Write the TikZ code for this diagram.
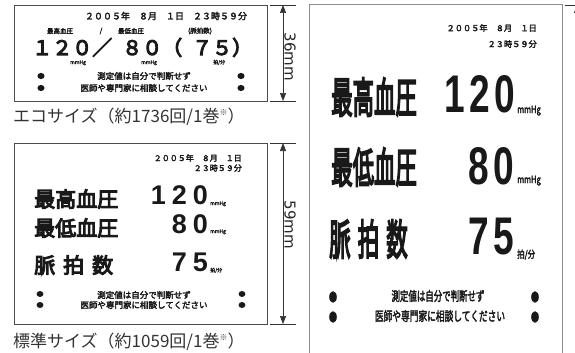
\documentclass[tikz,border=0pt]{standalone}
\usepackage{graphicx}
\usepackage{fontspec}
\setmainfont{Noto Sans CJK JP}
\newfontfamily\prt[FakeBold=3]{Noto Sans CJK JP}
\newfontfamily\prtheavy[FakeBold=5]{Noto Sans CJK JP}
\newfontfamily\prtdig{Liberation Sans}
\newfontfamily\dimfont{DejaVu Sans}
\newcommand{\squeeze}[2]{\scalebox{#1}[1]{#2}}
\usetikzlibrary{arrows.meta}

\begin{document}
\begin{tikzpicture}[x=1pt, y=-1pt]
	\tikzstyle{every node}=[inner sep=0, text=black!90]
	\tikzstyle{paper}=[black!70, line width=0.8]
	\tikzstyle{dim}=[black!80, line width=0.6]
	\tikzstyle{dimarrow}=[dim, {Triangle[length=8pt,width=6pt]}-{Triangle[length=8pt,width=6pt]}]
	\tikzstyle{dimlabel}=[rotate=-90, text=black!85, font=\dimfont\fontsize{15}{15}\selectfont]
	\tikzstyle{caption}=[anchor=west, text=black!80, font=\fontsize{17}{17}\selectfont]
	\tikzstyle{head}=[font=\prt\fontsize{6.5}{6.5}\selectfont]
	\tikzstyle{unit}=[anchor=base west, font=\prt\fontsize{5}{5}\selectfont]
	\tikzstyle{note}=[font=\prt\fontsize{8.5}{8.5}\selectfont]
	\tikzstyle{stamp}=[anchor=east, font=\prt\fontsize{8}{8}\selectfont]
	\tikzstyle{rowname}=[anchor=west, font=\prtheavy\fontsize{21}{21}\selectfont]
	\tikzstyle{reading}=[anchor=east, font=\prtdig\bfseries\fontsize{27}{27}\selectfont]
	\tikzstyle{bigname}=[anchor=west, font=\prtheavy\fontsize{42}{42}\selectfont]
	\tikzstyle{bigreading}=[anchor=east, font=\prtdig\bfseries\fontsize{53}{53}\selectfont]
	\tikzstyle{bigunit}=[anchor=base west, font=\prt\fontsize{10}{10}\selectfont]
	\tikzstyle{bignote}=[font=\prt\fontsize{13}{13}\selectfont]
	\useasboundingbox (0,0) rectangle (575,353);
	\clip (0,0) rectangle (575,353);

	%paper outlines
	\draw[paper] (14,5) coordinate (eco nw) rectangle (267,101) coordinate (eco se);
	\draw[paper] (14,143) coordinate (std nw) rectangle (267,324) coordinate (std se);
	\draw[paper, black!45, line width=1] (309,360) -- (309,5) coordinate (big nw) -- (562,5) -- (562,360);

	%dimensions
	\foreach \y in {5,101,143,324}
		\draw[dim] (270,\y) -- (296,\y);
	\draw[dim] (565,5) -- (585,5);
	\coordinate (eco top) at (283,5);
	\coordinate (eco bot) at (283,101);
	\coordinate (std top) at (283,143);
	\coordinate (std bot) at (283,324);
	\coordinate (big top) at (577,5);
	\coordinate (big bot) at (577,420);
	\draw[dimarrow] (eco top) -- (eco bot);
	\draw[dimarrow] (std top) -- (std bot);
	\draw[dimarrow] (big top) -- (big bot);
	\node[dimlabel] (eco size) at (290,57) {36mm};
	\node[dimlabel] (std size) at (290,225) {59mm};

	%eco size slip
	\node[font=\prt\fontsize{9}{9}\selectfont] (eco date) at (166,16) {２００５年　８月　１日　２３時５９分};
	\node[head] (eco sys head) at (60,31) {最高血圧};
	\node[head] (eco slash) at (101,31) {/};
	\node[head] (eco dia head) at (131,31) {最低血圧};
	\node[head] (eco pulse head) at (200,31) {(脈拍数)};
	\node[anchor=base west, font=\prtheavy\fontsize{20}{20}\selectfont] (eco values) at (32,55)
		{１２０／\hspace{10pt}８０（\hspace{10pt}７５）};
	\node[unit] (eco unit sys) at (70,64) {mmHg};
	\node[unit] (eco unit dia) at (141,64) {mmHg};
	\node[unit] (eco unit pulse) at (213,64) {拍/分};
	\foreach \x in {41,241}
		\foreach \y in {76,88}
			\fill[black!90] (\x,\y) ellipse (3.6 and 3.1);
	\node[note] (eco note a) at (144,76) {測定値は自分で判断せず};
	\node[note] (eco note b) at (144,88) {医師や専門家に相談してください};

	%standard size slip
	\node[stamp] (std date) at (242,158) {２００５年　８月　１日};
	\node[stamp] (std time) at (242,168) {２３時５９分};
	\node[rowname] (std sys name) at (34,199) {最高血圧};
	\node[rowname] (std dia name) at (34,228) {最低血圧};
	\node[rowname] (std pulse name) at (34,265) {脈\hspace{8pt}拍\hspace{8pt}数};
	\node[reading] (std sys val) at (208,195) {1\hspace{6pt}2\hspace{6pt}0};
	\node[reading] (std dia val) at (208,224.5) {8\hspace{6pt}0};
	\node[reading] (std pulse val) at (208,262.5) {7\hspace{6pt}5};
	\node[unit] (std unit sys) at (210,205) {mmHg};
	\node[unit] (std unit dia) at (210,233) {mmHg};
	\node[unit] (std unit pulse) at (210,272) {拍/分};
	\foreach \x in {40,242}
		\foreach \y in {294,305}
			\fill[black!90] (\x,\y) ellipse (3.4 and 3);
	\node[note] (std note a) at (144,295) {測定値は自分で判断せず};
	\node[note] (std note b) at (144,305) {医師や専門家に相談してください};

	%large size slip
	\node[stamp, font=\prt\fontsize{8.2}{8.2}\selectfont] (big date) at (537,28) {２００５年　８月　１日};
	\node[stamp, font=\prt\fontsize{8.2}{8.2}\selectfont] (big time) at (537,44) {２３時５９分};
	\node[bigname] (big sys name) at (331,97) {\squeeze{0.51}{最高血圧}};
	\node[bigname] (big dia name) at (331,167) {\squeeze{0.51}{最低血圧}};
	\node[bigname] (big pulse name) at (329,239) {\squeeze{0.51}{脈\hspace{14pt}拍\hspace{14pt}数}};
	\node[bigreading] (big sys val) at (515,94) {\squeeze{0.7}{1\hspace{6pt}2\hspace{6pt}0}};
	\node[bigreading] (big dia val) at (514,166.5) {\squeeze{0.7}{8\hspace{6pt}0}};
	\node[bigreading] (big pulse val) at (514,236.5) {\squeeze{0.7}{7\hspace{6pt}5}};
	\node[bigunit] (big unit sys) at (517,113) {\squeeze{0.75}{mmHg}};
	\node[bigunit] (big unit dia) at (517,183) {\squeeze{0.75}{mmHg}};
	\node[bigunit] (big unit pulse) at (517,258) {\squeeze{0.75}{拍/分}};
	\foreach \x in {333,535}
		\foreach \y in {297,317}
			\fill[black!90] (\x,\y) ellipse (3.8 and 5.8);
	\node[bignote] (big note a) at (438,296) {\squeeze{0.65}{測定値は自分で判断せず}};
	\node[bignote] (big note b) at (440,316) {\squeeze{0.67}{医師や専門家に相談してください}};

	%captions
	\node[caption] (eco caption) at (13,117) {エコサイズ（約1736回/1巻\raisebox{0.45em}{\fontsize{8}{8}\selectfont ※}）};
	\node[caption] (std caption) at (13,342) {標準サイズ（約1059回/1巻\raisebox{0.45em}{\fontsize{8}{8}\selectfont ※}）};
\end{tikzpicture}
\end{document}
